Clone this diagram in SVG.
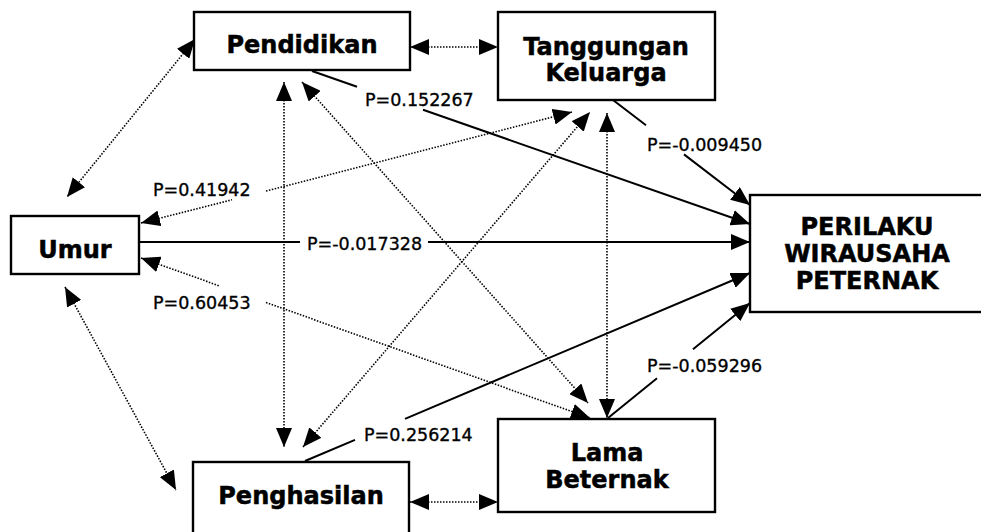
<svg xmlns="http://www.w3.org/2000/svg" width="981" height="532" viewBox="0 0 981 532">
  <style>
    .box { fill: #fff; stroke: #000; stroke-width: 2.4; }
    .name { font-family: "DejaVu Sans", Verdana, sans-serif; font-weight: bold; font-size: 24px; text-anchor: middle; fill: #000; stroke: #000; stroke-width: 0.5; }
    .coef { font-family: "DejaVu Sans", Verdana, sans-serif; font-size: 17.5px; fill: #000; stroke: #000; stroke-width: 0.35; }
    .corr { fill: none; stroke: #000; stroke-width: 1.6; stroke-dasharray: 1.5 1.5; marker-start: url(#head); marker-end: url(#head); }
    .path { fill: none; stroke: #000; stroke-width: 2; marker-end: url(#head); }
  </style>
  <defs>
    <marker id="head" markerUnits="userSpaceOnUse" markerWidth="19" markerHeight="16" refX="19" refY="8" orient="auto-start-reverse" viewBox="0 0 19 16">
      <path d="M0,0 L19,8 L0,16 z" fill="#000"/>
    </marker>
  </defs>
  <rect width="981" height="532" fill="#fff"/>

  <!-- correlations (dotted, two-headed) and path coefficients (solid) -->
  <g id="connectors">
    <path class="corr" d="M410,47 L498,47"/>
    <path class="corr" d="M195,39 L67,197"/>
    <path class="corr" d="M65,287 L176,490"/>
    <path class="corr" d="M284,82 L284,447"/>
    <path class="corr" d="M302,82 L588,403"/>
    <path class="corr" d="M141,223 L232,199.8 M266,191.1 L572,112"/>
    <path class="corr" d="M141,258 L220,286.1 M266,302.5 L590,418"/>
    <path class="corr" d="M303,447 L590,112"/>
    <path class="corr" d="M607,113 L607,418"/>
    <path class="corr" d="M410,502 L498,502"/>

    <path class="path" d="M312,71 L357,86.7 M423,109.8 L750,224"/>
    <path class="path" d="M613,100 L646,125.3 M684,154.4 L750,205"/>
    <path class="path" d="M139,242 L300,242 M428,242 L750,242"/>
    <path class="path" d="M305,461 L355,439.9 M405,418.8 L750,273"/>
    <path class="path" d="M608,418 L657,378.3 M693,349.2 L750,303"/>

    <text class="coef" x="365" y="106">P=0.152267</text>
    <text class="coef" x="647" y="151">P=-0.009450</text>
    <text class="coef" x="153" y="196">P=0.41942</text>
    <text class="coef" x="307" y="250">P=-0.017328</text>
    <text class="coef" x="153" y="309">P=0.60453</text>
    <text class="coef" x="647" y="372">P=-0.059296</text>
    <text class="coef" x="364" y="441">P=0.256214</text>
  </g>

  <g id="pendidikan">
    <rect class="box" x="194" y="12" width="216" height="58"/>
    <text class="name" x="302" y="53">Pendidikan</text>
  </g>
  <g id="tanggungan-keluarga">
    <rect class="box" x="498" y="12" width="217" height="88"/>
    <text class="name" x="606" y="55">Tanggungan</text>
    <text class="name" x="606" y="81">Keluarga</text>
  </g>
  <g id="umur">
    <rect class="box" x="11" y="216" width="128" height="58"/>
    <text class="name" x="75" y="258">Umur</text>
  </g>
  <g id="perilaku-wirausaha-peternak">
    <rect class="box" x="750" y="195" width="240" height="117"/>
    <text class="name" x="867" y="235">PERILAKU</text>
    <text class="name" x="867" y="262">WIRAUSAHA</text>
    <text class="name" x="867" y="289">PETERNAK</text>
  </g>
  <g id="penghasilan">
    <rect class="box" x="193" y="462" width="216" height="80"/>
    <text class="name" x="301" y="504">Penghasilan</text>
  </g>
  <g id="lama-beternak">
    <rect class="box" x="498" y="419" width="217" height="93"/>
    <text class="name" x="607" y="461">Lama</text>
    <text class="name" x="607" y="488">Beternak</text>
  </g>
</svg>
